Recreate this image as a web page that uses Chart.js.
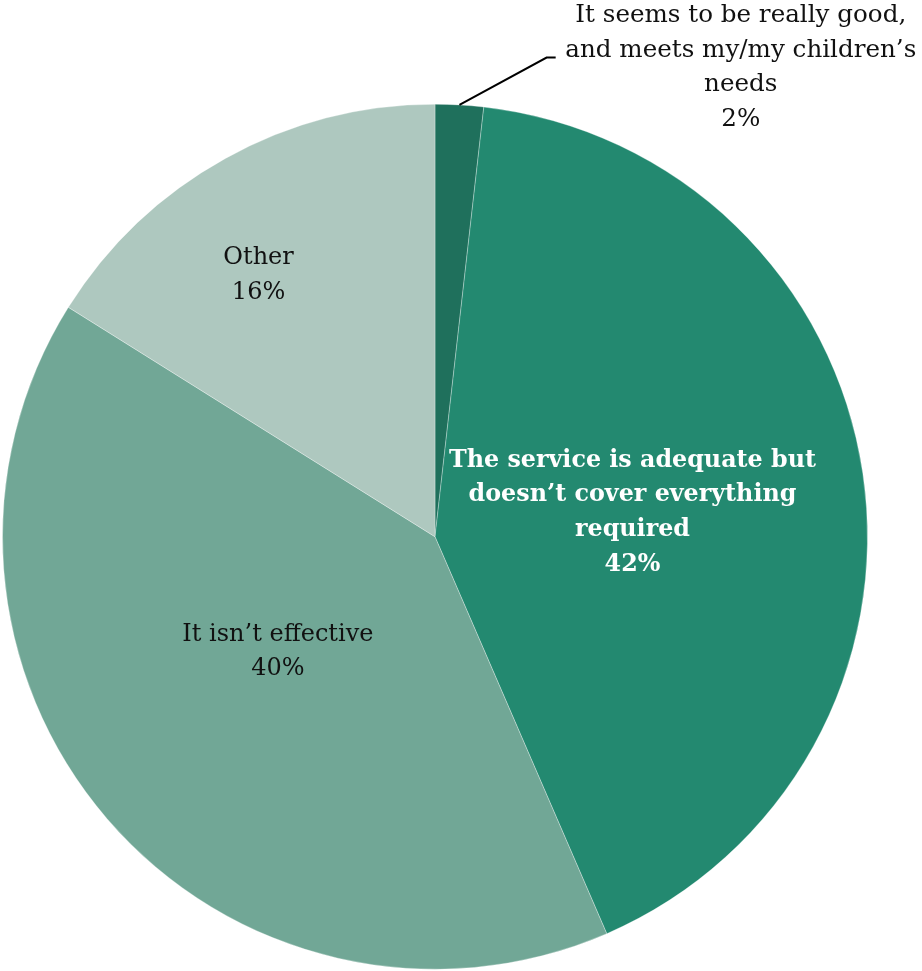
<!DOCTYPE html>
<html>
<head>
<meta charset="utf-8">
<script src="https://cdn.jsdelivr.net/npm/chart.js@4.4.0/dist/chart.umd.min.js"></script>
<style>
html,body{margin:0;padding:0;background:#fff;}
#wrap{width:922px;height:971px;position:relative;}
</style>
</head>
<body>
<div id="wrap"><canvas id="c" width="922" height="971"></canvas></div>
<script>
// Data
const categories = [
  "It seems to be really good, and meets my/my children’s needs",
  "The service is adequate but doesn’t cover everything required",
  "It isn’t effective",
  "Other"
];
const values = [1.8, 41.7, 40.4, 16.1];
const labelLines = [
  ["It seems to be really good,", "and meets my/my children’s", "needs"],
  ["The service is adequate but", "doesn’t cover everything", "required"],
  ["It isn’t effective"],
  ["Other"]
];
const percentLabels = ["2%", "42%", "40%", "16%"];
const colors = ["#1f705c", "#238970", "#71a796", "#aec8bf"];

const FONT = '"DejaVu Serif", "Liberation Serif", serif';

// label placement options (relative to pie geometry)
const labelOpts = [
  {outside:true, textDX:0.707, textDY:-1.205, elbowDX:0.258, elbowDY:-1.108, lineEndDX:0.279},
  {frac:0.46, angleShift:1.5, bold:true, color:"#ffffff"},
  {frac:0.45, angleShift:4.5, color:"#111111"},
  {frac:0.73, angleShift:-5, color:"#111111"}
];

const labelPlugin = {
  id: 'sliceLabels',
  afterDatasetsDraw(chart) {
    const ctx = chart.ctx;
    const meta = chart.getDatasetMeta(0);
    const lh = 34.7;
    meta.data.forEach((arc, i) => {
      const p = arc.getProps(['x','y','startAngle','endAngle','outerRadius'], true);
      const o = labelOpts[i];
      const lines = labelLines[i].concat([percentLabels[i]]);
      ctx.save();
      ctx.textAlign = 'center';
      ctx.textBaseline = 'middle';
      let cx, cy;
      if (o.outside) {
        const mid = (p.startAngle + p.endAngle) / 2;
        const r = p.outerRadius;
        const sx = p.x + Math.cos(mid) * r;
        const sy = p.y + Math.sin(mid) * r;
        ctx.strokeStyle = '#000';
        ctx.lineWidth = 2;
        ctx.beginPath();
        ctx.moveTo(sx, sy);
        ctx.lineTo(p.x + o.elbowDX * r, p.y + o.elbowDY * r);
        ctx.lineTo(p.x + o.lineEndDX * r, p.y + o.elbowDY * r);
        ctx.stroke();
        cx = p.x + o.textDX * r;
        const firstY = p.y + o.textDY * r;
        ctx.fillStyle = '#111';
        ctx.font = '24.6px ' + FONT;
        lines.forEach((t, k) => ctx.fillText(t, cx, firstY + k * lh));
      } else {
        const mid = (p.startAngle + p.endAngle) / 2 + (o.angleShift || 0) * Math.PI / 180;
        const r = p.outerRadius * o.frac;
        cx = p.x + Math.cos(mid) * r;
        cy = p.y + Math.sin(mid) * r;
        ctx.fillStyle = o.color;
        ctx.font = (o.bold ? 'bold 23.8px ' : '24px ') + FONT;
        const top = cy - (lines.length - 1) * lh / 2;
        lines.forEach((t, k) => ctx.fillText(t, cx, top + k * lh));
      }
      ctx.restore();
    });
  }
};

new Chart(document.getElementById('c'), {
  type: 'pie',
  data: {
    labels: categories,
    datasets: [{
      data: values,
      backgroundColor: colors,
      borderColor: 'rgba(255,255,255,0.3)',
      borderWidth: 1
    }]
  },
  options: {
    responsive: false,
    animation: false,
    rotation: 0,
    layout: {padding: {left: 2, right: 54, top: 103.5, bottom: 1}},
    plugins: {
      legend: {display: false},
      tooltip: {enabled: false}
    }
  },
  plugins: [labelPlugin]
});
</script>
</body>
</html>
